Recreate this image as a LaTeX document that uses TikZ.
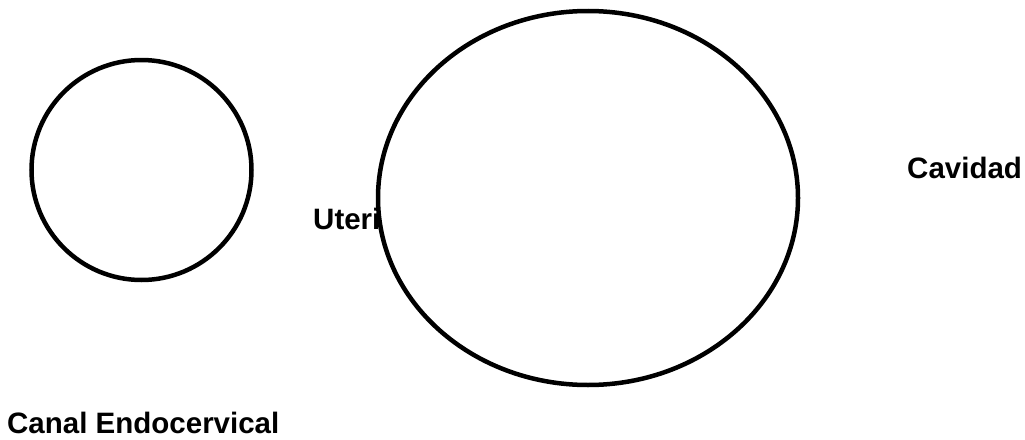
\documentclass[tikz,border=0pt]{standalone}
\usepackage{fontspec}
\setmainfont{Liberation Sans}
\usetikzlibrary{positioning}

\begin{document}
\begin{tikzpicture}[x=1pt, y=-1pt,
  lbl/.style={font=\fontsize{29.5}{35}\selectfont\bfseries, inner sep=0pt, anchor=base west},
  rim/.style={draw=black, line width=4.5pt, fill=white}]

\useasboundingbox (0,0) rectangle (1025,439);

% labels
\node[lbl] (uteri)   at (313,229) {Uteri};
\node[lbl] (cavidad) at (907,178) {Cavidad};
\node[lbl] (canal)   at (7,433)   {Canal Endocervical};

% canal y cavidad
\draw[rim] (141.5,170) circle [radius=110];
\draw[rim] (588,198) ellipse [x radius=210, y radius=187];
\end{tikzpicture}
\end{document}
